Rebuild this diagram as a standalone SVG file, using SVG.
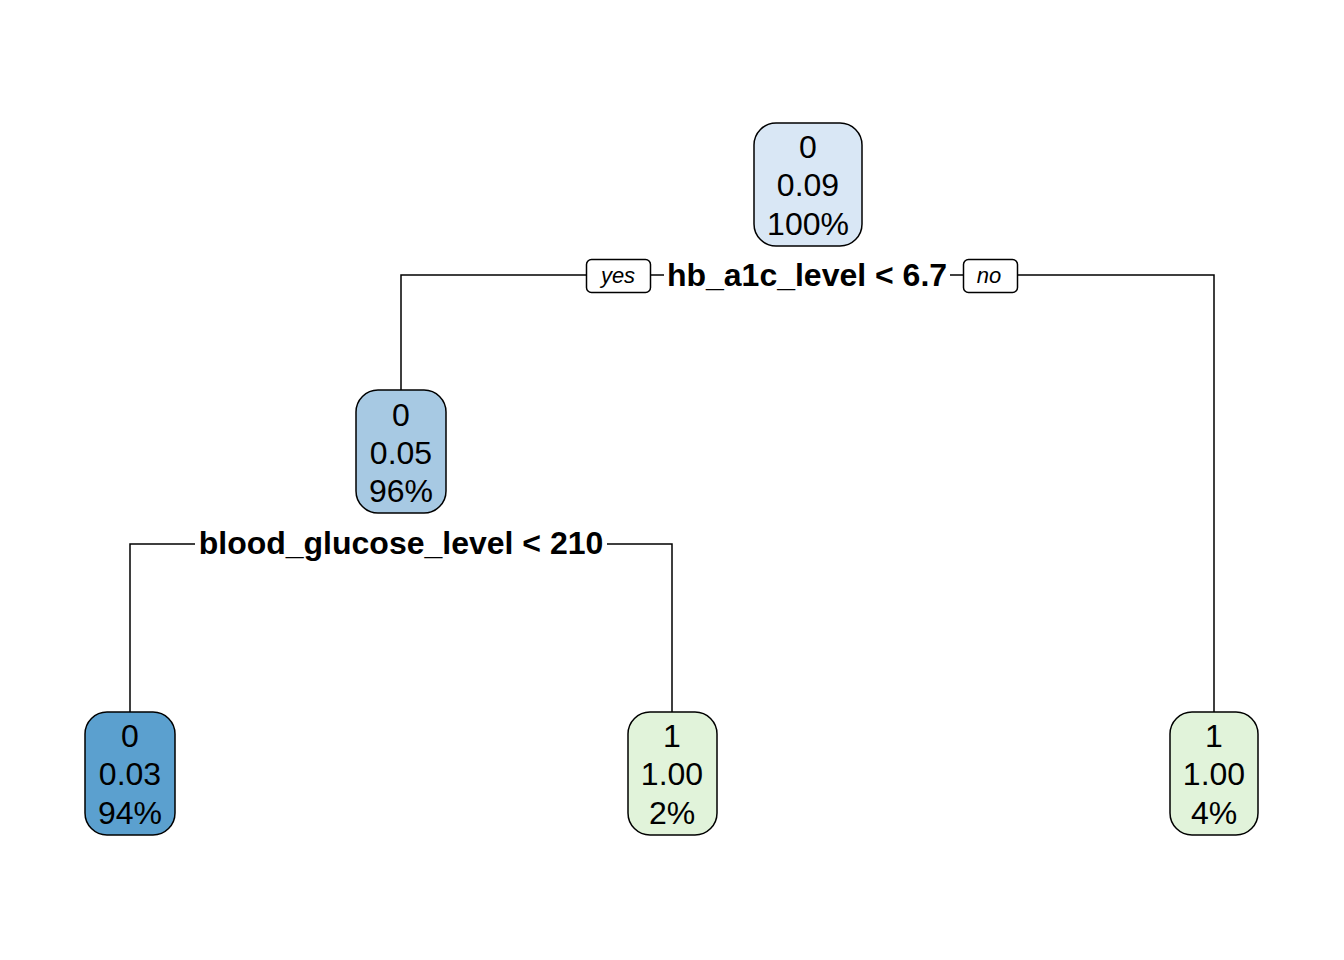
<svg xmlns="http://www.w3.org/2000/svg" width="1344" height="960" viewBox="0 0 1344 960">
<style>
.n{stroke:#000;stroke-width:1.5}
.t{font-family:"Liberation Sans",Arial,sans-serif;font-size:32px;text-anchor:middle;fill:#000}
.lb{font-family:"Liberation Sans",Arial,sans-serif;font-size:32px;font-weight:bold;text-anchor:middle;fill:#000}
.yn{font-family:"Liberation Sans",Arial,sans-serif;font-size:22px;font-style:italic;text-anchor:middle;fill:#000}
.c{fill:none;stroke:#000;stroke-width:1.5}
</style>
<rect width="1344" height="960" fill="#fff"/>
<g id="connectors">
<polyline class="c" points="586,275 401,275 401,390"/>
<line class="c" x1="650" y1="275" x2="664" y2="275"/>
<line class="c" x1="950" y1="275" x2="963" y2="275"/>
<polyline class="c" points="1017,275 1214,275 1214,712"/>
<polyline class="c" points="195,544 130,544 130,712"/>
<polyline class="c" points="607,544 672,544 672,712"/>
</g>
<g id="split1">
<rect x="586.5" y="259.5" width="64" height="33" rx="5" fill="#fff" stroke="#000" stroke-width="1.5"/>
<text class="yn" x="618" y="283">yes</text>
<text class="lb" x="807" y="286">hb_a1c_level &lt; 6.7</text>
<rect x="963.5" y="259.5" width="54" height="33" rx="5" fill="#fff" stroke="#000" stroke-width="1.5"/>
<text class="yn" x="989" y="283">no</text>
</g>
<g id="split2">
<text class="lb" x="401" y="554">blood_glucose_level &lt; 210</text>
</g>
<g id="root">
<rect class="n" x="754" y="123" width="108" height="123" rx="22" fill="#D9E7F5"/>
<text class="t" x="808" y="158">0</text>
<text class="t" x="808" y="196">0.09</text>
<text class="t" x="808" y="235">100%</text>
</g>
<g id="node2">
<rect class="n" x="356" y="390" width="90" height="123" rx="22" fill="#A7C9E3"/>
<text class="t" x="401" y="426">0</text>
<text class="t" x="401" y="464">0.05</text>
<text class="t" x="401" y="502">96%</text>
</g>
<g id="leaf1">
<rect class="n" x="85" y="712" width="90" height="123" rx="22" fill="#5BA0CF"/>
<text class="t" x="130" y="747">0</text>
<text class="t" x="130" y="785">0.03</text>
<text class="t" x="130" y="824">94%</text>
</g>
<g id="leaf2">
<rect class="n" x="628" y="712" width="89" height="123" rx="22" fill="#E1F3DA"/>
<text class="t" x="672" y="747">1</text>
<text class="t" x="672" y="785">1.00</text>
<text class="t" x="672" y="824">2%</text>
</g>
<g id="leaf3">
<rect class="n" x="1170" y="712" width="88" height="123" rx="22" fill="#E1F3DA"/>
<text class="t" x="1214" y="747">1</text>
<text class="t" x="1214" y="785">1.00</text>
<text class="t" x="1214" y="824">4%</text>
</g>
</svg>
